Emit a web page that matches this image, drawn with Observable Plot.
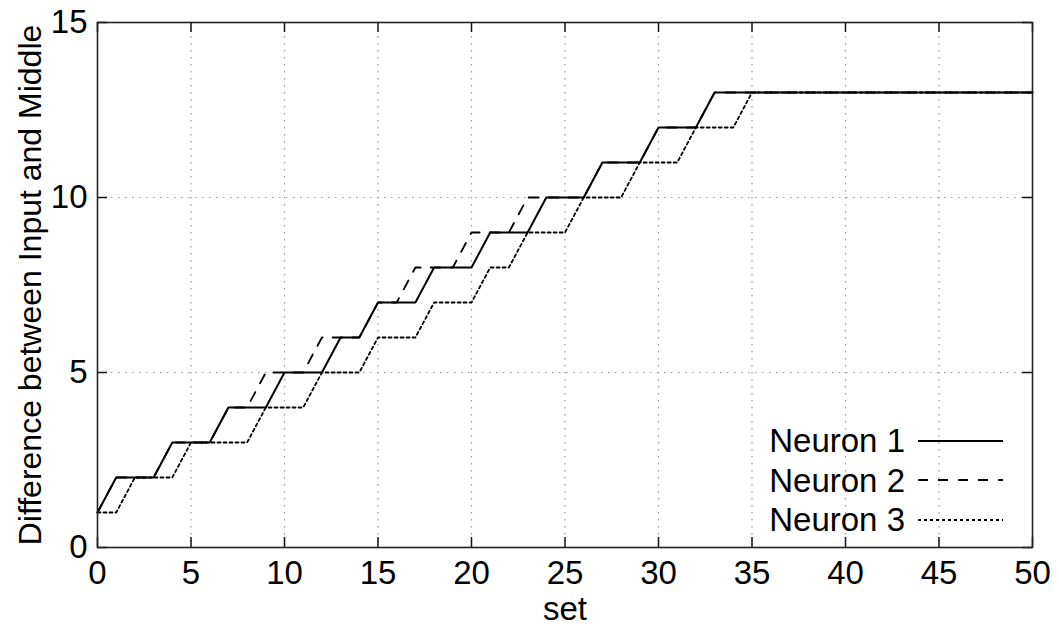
<!DOCTYPE html>
<html>
<head>
<meta charset="utf-8">
<script src="https://cdn.jsdelivr.net/npm/d3@7"></script>
<script src="https://cdn.jsdelivr.net/npm/@observablehq/plot@0.6"></script>
<style>
  html, body { margin: 0; padding: 0; background: #fff; }
  #wrap { position: relative; width: 1059px; height: 630px; font-family: "Liberation Sans", Arial, sans-serif; }
  .legend { position: absolute; left: 700px; top: 421px; }
  .row { display: flex; align-items: center; height: 39.5px; }
  .row span { display: inline-block; width: 205px; text-align: right; font-size: 33px; line-height: 33px; color: #000; }
  .row svg { margin-left: 13px; }
</style>
</head>
<body>
<div id="wrap"></div>
<script>
const sets = [0,1,2,3,4,5,6,7,8,9,10,11,12,13,14,15,16,17,18,19,20,21,22,23,24,25,26,27,28,29,30,31,32,33,34,35,36,37,38,39,40,41,42,43,44,45,46,47,48,49,50];
const neuron1 = [1,2,2,2,3,3,3,4,4,4,5,5,5,6,6,7,7,7,8,8,8,9,9,9,10,10,10,11,11,11,12,12,12,13,13,13,13,13,13,13,13,13,13,13,13,13,13,13,13,13,13];
const neuron2 = [1,2,2,2,3,3,3,4,4,5,5,5,6,6,6,7,7,8,8,8,9,9,9,10,10,10,10,11,11,11,12,12,12,13,13,13,13,13,13,13,13,13,13,13,13,13,13,13,13,13,13];
const neuron3 = [1,1,2,2,2,3,3,3,3,4,4,4,5,5,5,6,6,6,7,7,7,8,8,9,9,9,10,10,10,11,11,11,12,12,12,13,13,13,13,13,13,13,13,13,13,13,13,13,13,13,13];
const seriesNames = ["Neuron 1", "Neuron 2", "Neuron 3"];
const xTicks = [0,5,10,15,20,25,30,35,40,45,50];
const yTicks = [0,5,10,15];
const xGrid = [5,10,15,20,25,30,35,40,45];
const yGrid = [5,10];
const xLabel = "set";
const yLabel = "Difference between Input and Middle";

const dashes = [null, "10,10", "3,3"];
const widths = [2, 1.8, 1.8];

const rows = [];
[neuron1, neuron2, neuron3].forEach((vals, i) => {
  vals.forEach((v, j) => rows.push({set: sets[j], value: v, series: seriesNames[i]}));
});

const plotH = 630 - 22 - 83;
const plotW = 1059 - 97 - 27;
const font = "'Liberation Sans', Arial, sans-serif";

const chart = Plot.plot({
  width: 1059,
  height: 630,
  marginLeft: 97,
  marginRight: 27,
  marginTop: 22,
  marginBottom: 83,
  style: {fontSize: "33px", fontFamily: font, background: "#fff", color: "#000", overflow: "visible"},
  x: {domain: [0, 50]},
  y: {domain: [0, 15]},
  marks: [
    Plot.ruleX(xGrid, {stroke: "#9a9a9a", strokeWidth: 1.2, strokeDasharray: "1.5,5.5"}),
    Plot.ruleY(yGrid, {stroke: "#9a9a9a", strokeWidth: 1.2, strokeDasharray: "1.5,5.5"}),
    Plot.ruleX(xTicks, {stroke: "#111", strokeWidth: 1.5, insetTop: plotH - 10}),
    Plot.ruleX(xTicks, {stroke: "#111", strokeWidth: 1.5, insetBottom: plotH - 10}),
    Plot.ruleY(yTicks, {stroke: "#111", strokeWidth: 1.5, insetRight: plotW - 10}),
    Plot.ruleY(yTicks, {stroke: "#111", strokeWidth: 1.5, insetLeft: plotW - 10}),
    ...seriesNames.map((name, i) => Plot.line(rows.filter(d => d.series === name), {
      x: "set", y: "value", stroke: "#000", strokeWidth: widths[i],
      strokeDasharray: dashes[i], strokeLinejoin: "miter"
    })),
    Plot.frame({stroke: "#222", strokeWidth: 1.6}),
    Plot.axisX(xTicks, {tickSize: 0, tickPadding: 13, fontSize: 33, label: null, fontFamily: font}),
    Plot.axisY(yTicks, {tickSize: 0, tickPadding: 10, fontSize: 33, label: null, fontFamily: font}),
    Plot.text([xLabel], {text: d => d, frameAnchor: "bottom", dy: 72, fontSize: 33, fontFamily: font}),
    Plot.text([yLabel], {text: d => d, frameAnchor: "left", textAnchor: "middle", dx: -67, rotate: -90, fontSize: 32, fontFamily: font})
  ]
});

const wrap = document.getElementById("wrap");
wrap.appendChild(chart);

const legend = document.createElement("div");
legend.className = "legend";
seriesNames.forEach((name, i) => {
  const row = document.createElement("div");
  row.className = "row";
  const span = document.createElement("span");
  span.textContent = name;
  row.appendChild(span);
  const svg = d3.create("svg").attr("width", 90).attr("height", 12);
  svg.append("line").attr("x1", 0).attr("x2", 85).attr("y1", 6).attr("y2", 6)
    .attr("stroke", "#000").attr("stroke-width", widths[i])
    .attr("stroke-dasharray", dashes[i] ?? null);
  row.appendChild(svg.node());
  legend.appendChild(row);
});
wrap.appendChild(legend);
</script>
</body>
</html>
